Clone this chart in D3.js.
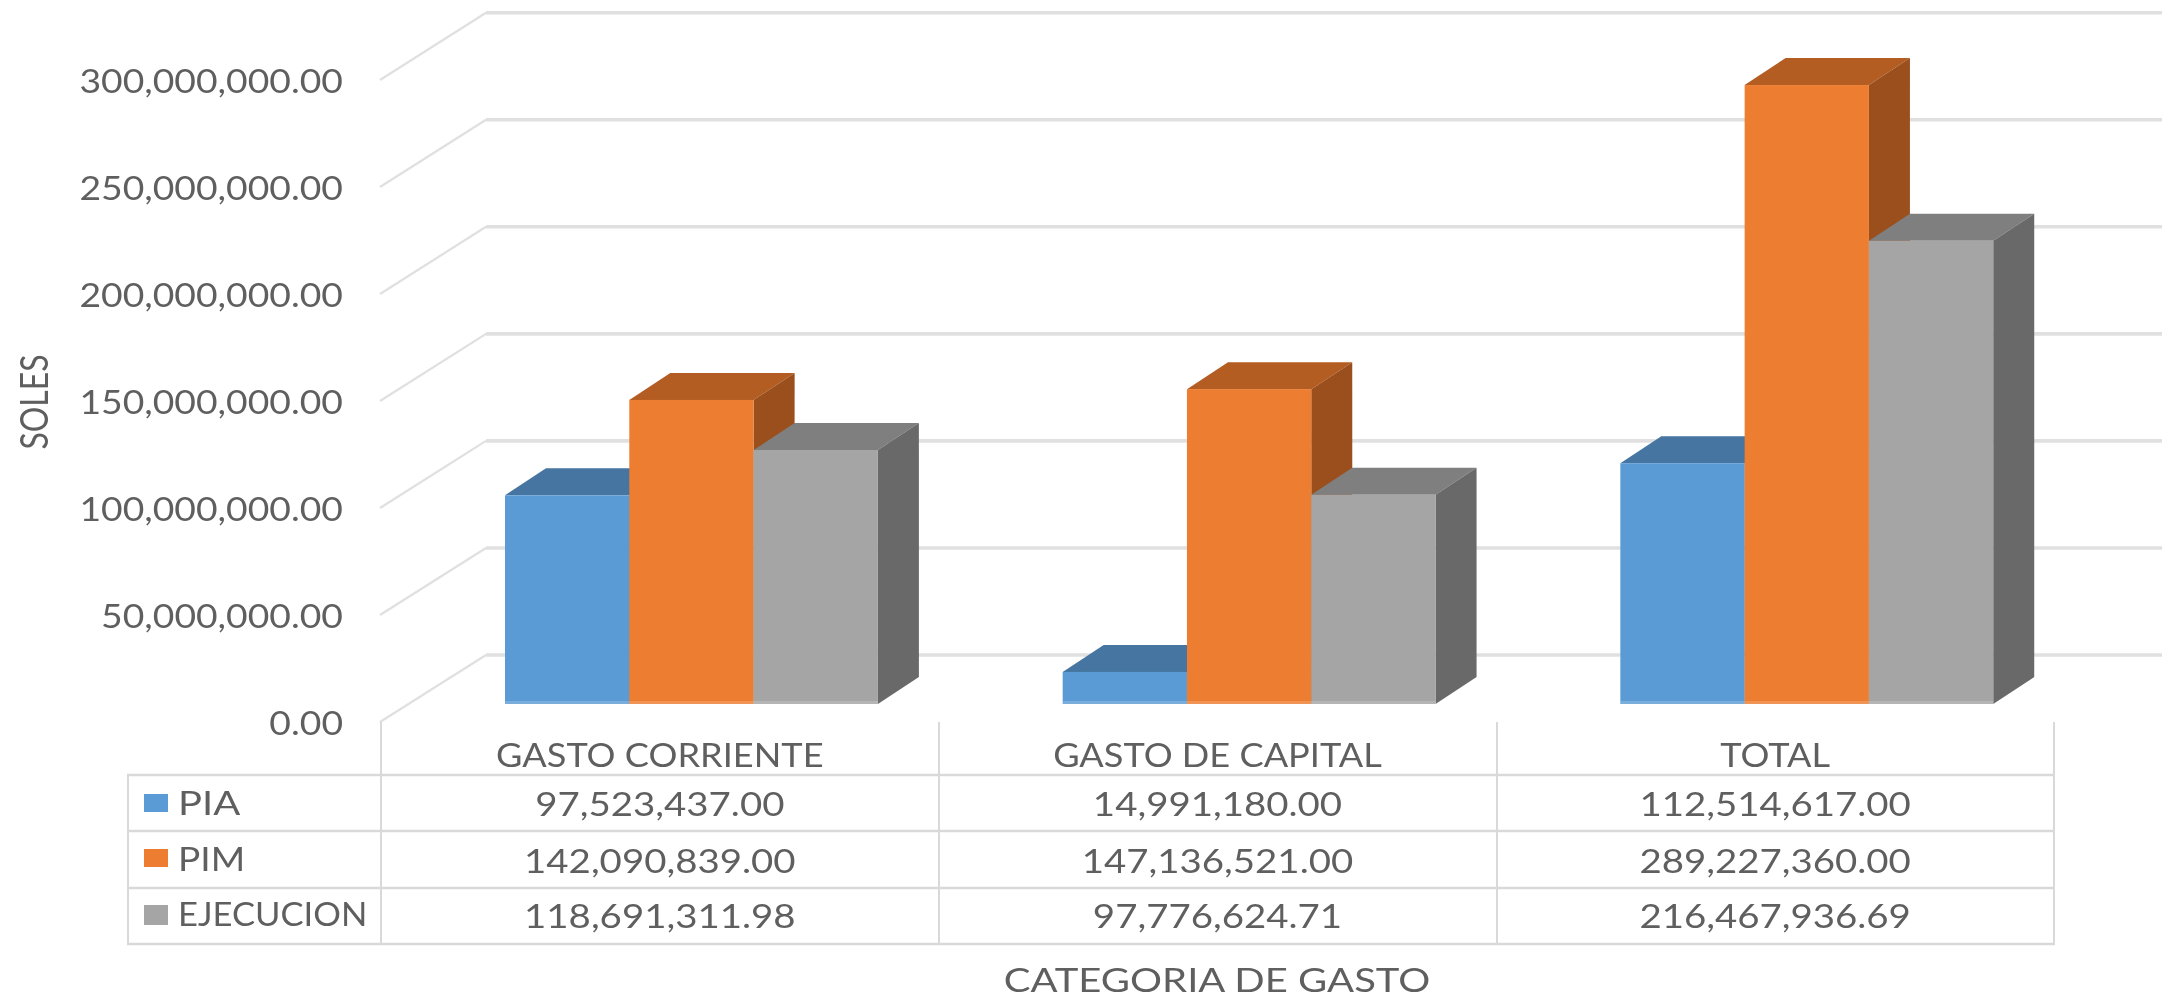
<!DOCTYPE html>
<html><head><meta charset="utf-8">
<script src="https://cdn.jsdelivr.net/npm/d3@7/dist/d3.min.js"></script>
<style>html,body{margin:0;background:#fff}svg{display:block}text{font-family:Lato,"Open Sans",sans-serif;fill:#5f5f5f}</style>
</head><body><svg id="c" width="2172" height="997"></svg>
<script>
const categories=["GASTO CORRIENTE","GASTO DE CAPITAL","TOTAL"];
const seriesNames=["PIA","PIM","EJECUCION"];
const pia=[97523437.00,14991180.00,112514617.00];
const pim=[142090839.00,147136521.00,289227360.00];
const ejecucion=[118691311.98,97776624.71,216467936.69];
const yTicks=[0,50000000,100000000,150000000,200000000,250000000,300000000];
const seriesColors=[
 {front:"#5b9bd5",top:"#4575a0",side:"#3f6b92"},
 {front:"#ed7d31",top:"#b35d22",side:"#9a4f1c"},
 {front:"#a5a5a5",top:"#7f7f7f",side:"#696969"}];
const allSeries=[pia,pim,ejecucion];

const svg=d3.select("#c");
const defs=svg.append("defs");
defs.append("filter").attr("id","soft").attr("x","-5%").attr("y","-20%").attr("width","110%").attr("height","140%")
  .append("feGaussianBlur").attr("stdDeviation",0.6);

const fmt=d3.format(",.2f");
const wallLeft=486, wallRight=2162, frontLeft=380;
const yFront=d3.scaleLinear().domain([0,300000000]).range([722,80]);
const yBack=d3.scaleLinear().domain([0,300000000]).range([655,12.7]);
const yBar=d3.scaleLinear().domain([0,300000000]).range([704,62]);
const xCat=d3.scaleBand().domain(categories).range([381,2054]);
const barW=124.3, depthX=41, depthY=27, barInset=124;
const xSer=d3.scaleBand().domain(seriesNames).range([0,barW*3]);

// gridlines
const grid=svg.append("g").attr("fill","none").attr("stroke","#e0e0e0");
grid.selectAll("path.h").data(yTicks).join("path").attr("class","h").attr("stroke-width",3.6)
  .attr("d",d=>d3.line()([[wallLeft,yBack(d)],[wallRight,yBack(d)]]));
grid.selectAll("path.d").data(yTicks).join("path").attr("class","d").attr("stroke-width",2.2)
  .attr("d",d=>d3.line()([[frontLeft,yFront(d)],[wallLeft,yBack(d)]]));

// bars
const poly=p=>d3.line()(p)+"Z";
categories.forEach((c,ci)=>{
  const g=svg.append("g");
  seriesNames.forEach((s,si)=>{
    const x0=xCat(c)+barInset+xSer(s), x1=x0+xSer.bandwidth(), yt=yBar(allSeries[si][ci]), yb=yBar(0), col=seriesColors[si];
    g.append("path").attr("fill",col.top).attr("d",poly([[x0,yt],[x0+depthX,yt-depthY],[x1+depthX,yt-depthY],[x1,yt]]));
    g.append("path").attr("fill",col.side).attr("d",poly([[x1,yt],[x1+depthX,yt-depthY],[x1+depthX,yb-depthY],[x1,yb]]));
    g.append("rect").attr("x",x0).attr("y",yt).attr("width",x1-x0).attr("height",yb-yt).attr("fill",col.front);
    g.append("rect").attr("x",x0).attr("y",yb-3).attr("width",x1-x0).attr("height",3).attr("fill","#fff").attr("opacity",0.18);
  });
});

// table
const rows=[775,831,888,944];
const colX=[128,381,939,1497,2054];
const tbl=svg.append("g").attr("stroke","#d9d9d9").attr("fill","none");
rows.forEach(y=>tbl.append("line").attr("x1",127).attr("x2",2055).attr("y1",y).attr("y2",y).attr("stroke-width",2.6));
colX.forEach((x,i)=>tbl.append("line").attr("x1",x).attr("x2",x).attr("y1",i==0?775:722).attr("y2",944).attr("stroke-width",2));

// text helper: stretches Lato horizontally the way the source image is stretched
const txt=svg.append("g").attr("filter","url(#soft)");
function label(parent,s,x,y,size,stretch,anchor){
  const t=parent.append("text").attr("x",x).attr("y",y).attr("font-size",size)
    .attr("dominant-baseline","central").attr("text-anchor",anchor||"middle").text(s);
  const w=t.node().getComputedTextLength();
  t.attr("textLength",w*stretch).attr("lengthAdjust","spacingAndGlyphs");
  return t;
}
// y axis
const axisG=txt.append("g").call(d3.axisLeft(yFront).tickValues(yTicks).tickFormat(fmt).tickSize(0).tickPadding(0))
  .attr("transform","translate(343,0)").attr("font-family",null);
axisG.select(".domain").remove();
axisG.selectAll("text").attr("font-size",32).attr("fill",null).attr("x",0).attr("dy",null).attr("dominant-baseline","central")
 .each(function(){const w=this.getComputedTextLength();d3.select(this).attr("textLength",w*1.165).attr("lengthAdjust","spacingAndGlyphs");});

categories.forEach((c,i)=>{
  const cx=xCat(c)+xCat.bandwidth()/2;
  label(txt,c,cx,754,32,1.13);
  allSeries.forEach((ser,si)=>{
    label(txt,fmt(ser[i]),cx,[803,860,915][si],32,1.2);
  });
});
seriesNames.forEach((s,si)=>{
  label(txt,s,178,[802,858,913][si],32,[1.25,1.16,1.08][si],"start");
  svg.append("rect").attr("x",144).attr("y",[794,849,905][si]).attr("width",24).attr("height",[18,18,20][si]).attr("fill",seriesColors[si].front);
});
label(txt,"CATEGORIA DE GASTO",1217,979,32,1.25);
const so=txt.append("g").attr("transform","translate(33,402) rotate(-90)");
label(so,"SOLES",0,0,38,0.84);
</script></body></html>
